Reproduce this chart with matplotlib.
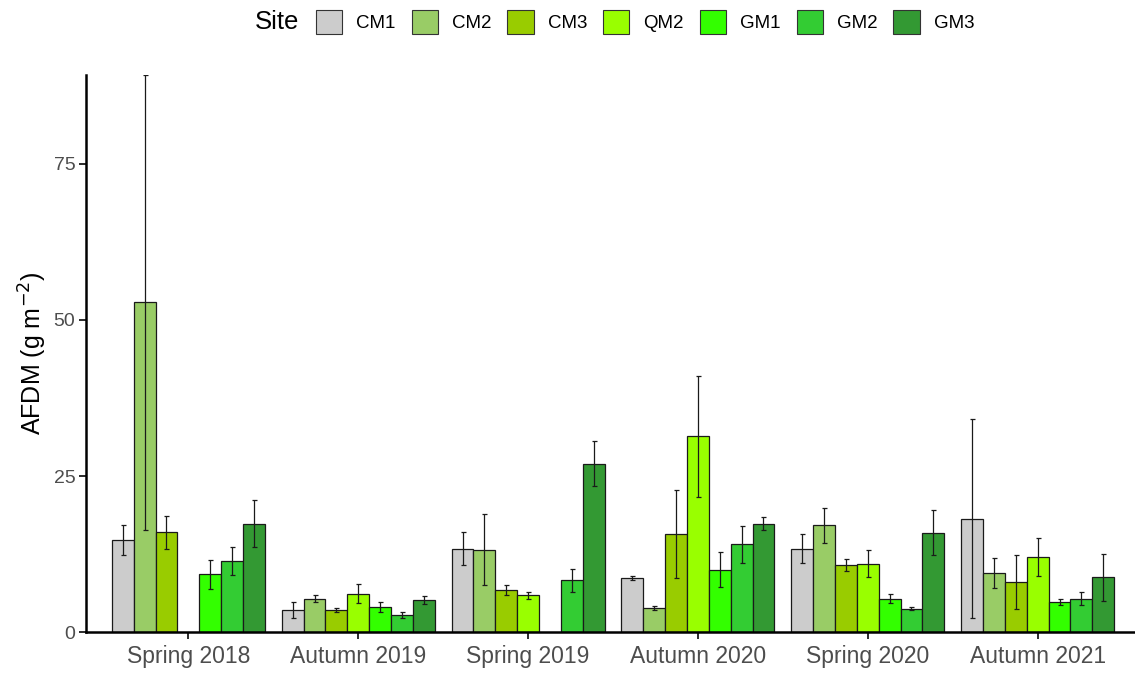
import numpy as np
import matplotlib
matplotlib.use("Agg")
import matplotlib.pyplot as plt
from matplotlib.patches import Patch

plt.rcParams['font.family'] = ['Liberation Sans', 'DejaVu Sans']

seasons = ['Spring 2018', 'Autumn 2019', 'Spring 2019',
           'Autumn 2020', 'Spring 2020', 'Autumn 2021']
sites = ['CM1', 'CM2', 'CM3', 'QM2', 'GM1', 'GM2', 'GM3']
colors = ['#cccccc', '#99cc66', '#99cc00', '#99ff00', '#33ff00', '#33cc33', '#339933']

nan = np.nan
# mean AFDM per site (rows) and season (columns)
cm1 = [14.8, 3.6, 13.4, 8.7, 13.4, 18.2]
cm2 = [52.8, 5.4, 13.2, 3.9, 17.1, 9.5]
cm3 = [16.0, 3.6, 6.7, 15.7, 10.8, 8.1]
qm2 = [nan, 6.2, 5.9, 31.4, 11.0, 12.0]
gm1 = [9.3, 4.0, nan, 10.0, 5.4, 4.8]
gm2 = [11.4, 2.8, 8.3, 14.1, 3.8, 5.4]
gm3 = [17.4, 5.2, 27.0, 17.4, 15.9, 8.8]

# standard errors
cm1_se = [2.4, 1.3, 2.6, 0.25, 2.35, 15.9]
cm2_se = [36.4, 0.55, 5.7, 0.35, 2.75, 2.4]
cm3_se = [2.6, 0.3, 0.8, 7.0, 1.0, 4.35]
qm2_se = [nan, 1.5, 0.5, 9.7, 2.2, 3.05]
gm1_se = [2.3, 0.8, nan, 2.8, 0.7, 0.45]
gm2_se = [2.25, 0.5, 1.9, 2.95, 0.3, 1.0]
gm3_se = [3.7, 0.6, 3.65, 1.0, 3.6, 3.75]

means = [cm1, cm2, cm3, qm2, gm1, gm2, gm3]
errs = [cm1_se, cm2_se, cm3_se, qm2_se, gm1_se, gm2_se, gm3_se]

fig = plt.figure(figsize=(11.35, 6.75), dpi=100)
ax = fig.add_axes([86.4 / 1135, 42.7 / 675, 1053.2 / 1135, 557.3 / 675])

x = np.arange(1, len(seasons) + 1)
w = 0.9 / len(sites)
for i, (m, e, c) in enumerate(zip(means, errs, colors)):
    pos = x - 0.45 + w * (i + 0.5)
    ax.bar(pos, m, width=w, color=c, edgecolor='#1a1a1a', linewidth=0.9, zorder=2)
    ax.errorbar(pos, m, yerr=e, fmt='none', ecolor='#1a1a1a', elinewidth=0.9,
                capsize=1.8, capthick=0.9, zorder=3)

ax.set_xlim(0.4, 6.6)
ax.set_ylim(0, 89.2)
ax.set_xticks(x)
ax.set_xticklabels(seasons)
ax.set_yticks([0, 25, 50, 75])
ax.tick_params(axis='x', labelsize=16.5, colors='#4d4d4d', length=5, width=1.3, pad=4)
ax.tick_params(axis='y', labelsize=14, colors='#4d4d4d', length=5, width=1.3, pad=3)
ax.tick_params(axis='both', which='both', color='#1a1a1a')
for s in ['top', 'right']:
    ax.spines[s].set_visible(False)
for s in ['left', 'bottom']:
    ax.spines[s].set_linewidth(1.8)
    ax.spines[s].set_color('black')
ax.set_ylabel('AFDM (g m$^{-2}$)', fontsize=18, labelpad=3)

handles = [Patch(facecolor=c, edgecolor='#333333', linewidth=0.8) for c in colors]
fig.text(255 / 1135, 1 - 22 / 675, 'Site', fontsize=18.5, va='center', ha='left')
fig.legend(handles, sites, loc='center left', bbox_to_anchor=(316 / 1135, 1 - 22 / 675),
           ncol=7, frameon=False, fontsize=13.5, handlelength=1.4, handleheight=1.65,
           handletextpad=0.75, columnspacing=0.85, borderpad=0, borderaxespad=0)

fig.savefig('out.png', dpi=100)
